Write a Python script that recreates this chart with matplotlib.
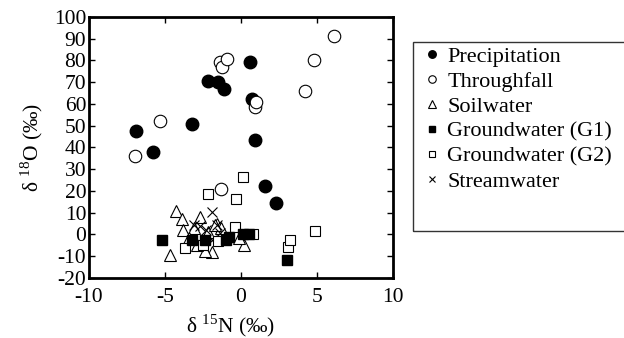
import matplotlib
matplotlib.use("Agg")
import matplotlib.pyplot as plt
from matplotlib.patches import Rectangle

plt.rcParams['font.family'] = ['Liberation Serif', 'DejaVu Serif']
plt.rcParams['mathtext.fontset'] = 'custom'
plt.rcParams['mathtext.rm'] = 'Liberation Serif'
plt.rcParams['axes.unicode_minus'] = False

# delta 15N (x) and delta 18O (y) per water source
precip_x = [-6.9, -5.8, -3.2, -2.2, -1.5, -1.1, 0.6, 0.7, 0.9, 1.6, 2.3]
precip_y = [47.6, 38.1, 50.8, 70.6, 70.3, 66.8, 79.2, 62.2, 43.4, 22.5, 14.3]

through_x = [-7.0, -5.3, -1.4, -1.25, -0.9, 0.9, 1.0, 4.2, 4.8, 6.1, -1.3]
through_y = [36.1, 52.2, 79.2, 77.2, 80.5, 58.5, 60.8, 66.0, 80.2, 91.3, 20.8]

soil_x = [-4.3, -3.9, -3.8, -4.7, -2.7, -1.9, -2.4, 0.2, -1.6, -3.1, -3.4, -1.3, -2.15, -0.1, -2.9, -1.7]
soil_y = [11.0, 7.1, 2.0, -9.3, 8.0, -8.0, -7.5, -4.8, 5.0, 2.9, -1.7, 2.9, 1.3, -1.6, -4.8, 4.4]

g1_x = [-5.2, -3.2, -2.4, -1.0, -0.8, 0.1, 0.5, 3.0]
g1_y = [-2.5, -2.5, -2.5, -2.5, -1.0, 0.2, 0.2, -11.7]

g2_x = [-3.7, -2.2, 0.15, -0.3, -0.4, 0.8, 3.1, 3.2, 4.9, -2.5, -1.5]
g2_y = [-6.3, 18.5, 26.6, 16.2, 3.6, 0.2, -5.6, -2.5, 1.6, -5.0, -3.0]

stream_x = [-1.9, -2.7, -1.6, -2.3, -1.4, -1.9, -3.1]
stream_y = [10.2, 3.9, 4.4, 2.0, 0.5, -2.5, 4.4]

fig = plt.figure(figsize=(6.24, 3.38), dpi=100)
ax = fig.add_axes([0.1426, 0.1775, 0.4872, 0.7725])

mew = 0.8
p1, = ax.plot(precip_x, precip_y, 'o', ms=9, color='black', label='Precipitation', zorder=3)
p2, = ax.plot(through_x, through_y, 'o', ms=9, mfc='white', mec='black', mew=mew,
              label='Throughfall', zorder=4)
p3, = ax.plot(soil_x, soil_y, '^', ms=9, mfc='white', mec='black', mew=mew,
              label='Soilwater', zorder=3)
p6, = ax.plot(stream_x, stream_y, 'x', ms=7, mec='black', mew=mew,
              label='Streamwater', zorder=3)
p5, = ax.plot(g2_x, g2_y, 's', ms=7.5, mfc='white', mec='black', mew=mew,
              label='Groundwater (G2)', zorder=4)
p4, = ax.plot(g1_x, g1_y, 's', ms=7.5, color='black', label='Groundwater (G1)', zorder=5)

ax.set_xlim(-10, 10)
ax.set_ylim(-20, 100)
ax.set_xticks([-10, -5, 0, 5, 10])
ax.set_yticks(range(-20, 101, 10))
ax.tick_params(direction='in', top=True, right=True, length=4, width=1,
               labelsize=15.5, pad=2)
ax.tick_params(axis='x', pad=7)
for s in ax.spines.values():
    s.set_linewidth(2)

ax.set_xlabel(r'δ $^{15}$N (‰)', fontsize=15.5, labelpad=4)
ax.xaxis.label.set_x(0.465)
ax.set_ylabel(r'δ $^{18}$O (‰)', fontsize=15.5, labelpad=6)

fig.patches.append(Rectangle((413 / 624, 1 - 231 / 338), 0.4, (231 - 42) / 338,
                             transform=fig.transFigure, fill=False,
                             edgecolor='#333333', linewidth=1))
fig.legend(handles=[p1, p2, p3, p4, p5, p6], loc='upper left',
           bbox_to_anchor=(426 / 624, 1 - 46 / 338), frameon=False,
           fontsize=16, markerscale=0.6, handlelength=0.5, handletextpad=0.45,
           labelspacing=0.2, borderpad=0, borderaxespad=0)

fig.savefig('out.png', dpi=100)
